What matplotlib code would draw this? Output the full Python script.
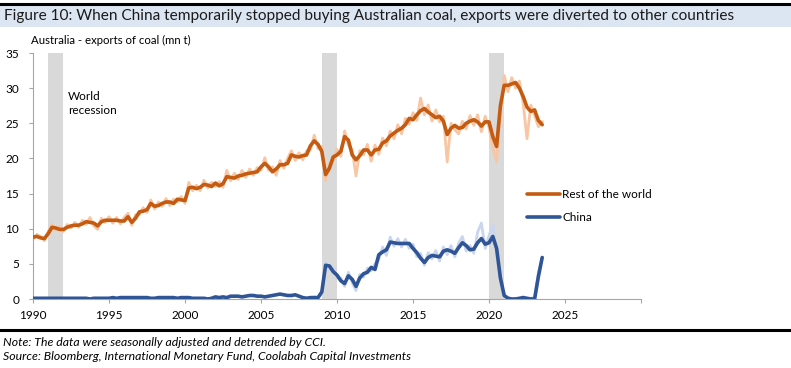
import numpy as np
import matplotlib
matplotlib.use('Agg')
import matplotlib.pyplot as plt
from matplotlib.patches import Rectangle
from matplotlib.lines import Line2D

# --- Data (quarterly) ---
q_start, q_end = 1990.0, 2023.5
quarters = np.arange(q_start, q_end + 0.01, 0.25)

row_trend = [
    8.8, 8.9, 8.7, 8.6,  9.3, 10.2, 10.1, 9.9,  9.9, 10.2, 10.4, 10.5,
    10.5, 10.7, 11.0, 10.9,  10.8, 10.4, 11.0, 11.2,  11.2, 11.2, 11.2, 11.1,
    11.1, 11.7, 10.9, 11.5,  12.4, 12.5, 12.7, 13.6,  13.2, 13.3, 13.6, 13.8,
    13.8, 13.6, 14.2, 14.1,  14.0, 15.8, 15.9, 15.7,  15.9, 16.3, 16.2, 16.0,
    16.5, 16.1, 16.4, 17.4,  17.3, 17.2, 17.5, 17.6,  17.8, 17.9, 18.0, 18.1,
    18.8, 19.3, 18.8, 18.1,  18.5, 19.1, 19.1, 19.3,  20.5, 20.3, 20.2, 20.4,
    20.5, 21.8, 22.5, 22.0,  21.0, 17.7, 18.6, 20.2,  20.5, 21.0, 23.1, 22.6,
    20.5, 19.8, 20.4, 21.2,  21.2, 20.5, 21.2, 21.3,  22.2, 22.5, 23.2, 23.6,
    24.0, 24.3, 24.8, 25.7,  25.5, 26.2, 26.8, 27.1,  26.6, 26.2, 25.8, 26.0,
    25.3, 23.4, 24.3, 24.7,  24.3, 24.4, 25.0, 25.3,  25.5, 25.2, 24.6, 25.2,
    25.2, 23.1, 21.7, 27.5,  30.4, 30.4, 30.6, 30.8,  30.0, 28.8, 27.3, 26.7,
    26.9, 25.4, 24.8,
]
row_raw = [
    8.5, 9.2, 8.9, 8.3,  9.6, 10.6, 9.8, 10.3,  9.6, 10.6, 10.1, 10.9,
    10.2, 11.2, 10.6, 11.6,  10.4, 9.9, 11.5, 10.9,  11.7, 10.8, 11.6, 10.7,
    11.6, 12.2, 10.5, 12.0,  12.0, 13.0, 12.3, 14.1,  12.8, 13.8, 13.2, 14.3,
    13.3, 14.2, 13.8, 14.6,  13.6, 16.6, 15.4, 16.2,  15.4, 16.9, 15.8, 16.6,
    16.0, 16.7, 15.9, 18.3,  16.8, 17.9, 17.0, 18.3,  17.3, 18.5, 17.6, 18.7,
    18.3, 20.1, 18.3, 18.8,  17.6, 19.7, 18.6, 20.0,  21.1, 19.7, 20.8, 19.8,
    21.1, 21.2, 23.3, 21.4,  21.7, 16.9, 19.3, 19.6,  21.3, 20.3, 23.9, 22.0,
    21.2, 17.5, 21.1, 20.5,  22.0, 19.6, 21.9, 20.6,  22.9, 21.8, 23.9, 22.8,
    24.8, 23.5, 25.7, 24.9,  26.5, 25.4, 28.6, 26.2,  27.6, 25.3, 26.9, 25.2,
    26.0, 19.5, 25.0, 24.1,  23.5, 25.3, 24.2, 26.1,  24.7, 26.2, 23.8, 26.0,
    24.4, 21.5, 19.5, 27.0,  31.8, 29.5, 31.5, 30.0,  31.0, 27.8, 22.8, 27.6,
    26.1, 24.5, 25.2,
]
china_trend = [
    0.1, 0.1, 0.1, 0.1,  0.1, 0.1, 0.1, 0.1,  0.1, 0.1, 0.1, 0.1,
    0.1, 0.1, 0.1, 0.0,  0.1, 0.1, 0.1, 0.1,  0.1, 0.2, 0.1, 0.2,
    0.2, 0.2, 0.2, 0.2,  0.2, 0.2, 0.2, 0.1,  0.1, 0.2, 0.2, 0.2,
    0.2, 0.2, 0.1, 0.2,  0.2, 0.2, 0.1, 0.1,  0.1, 0.1, 0.0, 0.1,
    0.3, 0.2, 0.3, 0.2,  0.4, 0.4, 0.4, 0.3,  0.4, 0.5, 0.5, 0.4,
    0.4, 0.3, 0.4, 0.5,  0.6, 0.7, 0.6, 0.5,  0.5, 0.6, 0.4, 0.2,
    0.1, 0.2, 0.2, 0.2,  1.0, 4.8, 4.7, 3.9,  3.4, 2.6, 2.2, 3.3,
    2.8, 1.8, 3.0, 3.6,  3.8, 4.5, 4.2, 6.3,  6.7, 7.0, 8.1, 8.0,
    7.9, 7.9, 7.9, 7.9,  7.2, 6.6, 5.8, 5.2,  5.9, 6.2, 6.1, 6.0,
    6.8, 7.0, 6.8, 6.5,  7.3, 8.0, 7.6, 7.0,  7.1, 8.0, 8.6, 7.8,
    8.0, 8.9, 7.2, 3.0,  0.5, 0.1, 0.0, 0.0,  0.1, 0.2, 0.1, 0.0,
    0.0, 3.2, 5.9,
]
china_raw_start = 2008.0
china_raw = [
    0.2, 0.1, 0.3, 0.1,  0.8, 5.3, 4.2, 4.4,  3.0, 3.0, 1.8, 3.8,
    2.3, 1.2, 3.5, 3.1,  4.4, 4.0, 5.0, 5.6,  7.4, 6.2, 8.8, 7.5,
    8.6, 7.4, 8.5, 7.2,  7.8, 6.0, 6.5, 4.8,  6.6, 5.7, 6.9, 5.4,
    7.4, 6.3, 7.6, 6.0,  7.9, 8.9, 6.8, 7.6,  6.5, 9.5, 10.8, 7.2,
    9.0, 10.6, 6.5, 2.6,  0.3, 0.2, 0.0, 0.1,  0.0, 0.3, 0.0, 0.1,
    0.2, 3.8, 5.9,
]
recessions = [(1991.0, 1992.0), (2009.0, 2010.0), (2020.0, 2021.0)]

xticks = [1990, 1995, 2000, 2005, 2010, 2015, 2020, 2025, 2030]
xticklabels = ['1990', '1995', '2000', '2005', '2010', '2015', '2020', '2025', '']
yticks = [0, 5, 10, 15, 20, 25, 30, 35]

# --- Figure ---
plt.rcParams['font.family'] = ['Lato', 'DejaVu Sans']
fig = plt.figure(figsize=(7.91, 3.68), dpi=100)
W, H = 791, 368

# header bar and rules
fig.patches.append(Rectangle((0, 1 - 27 / H), 1, 22 / H, transform=fig.transFigure,
                             facecolor='#DCE6F2', edgecolor='none', zorder=0))
fig.add_artist(Line2D([0, 1], [1 - 4 / H, 1 - 4 / H], transform=fig.transFigure,
                      color='black', linewidth=2.2))
fig.add_artist(Line2D([0, 1], [1 - 330 / H, 1 - 330 / H], transform=fig.transFigure,
                      color='black', linewidth=2.2))
fig.text(4 / W, 1 - 16 / H,
         'Figure 10: When China temporarily stopped buying Australian coal, exports were diverted to other countries',
         fontsize=11.1, va='center', ha='left', color='#1a1a1a')
fig.text(31 / W, 1 - 40 / H, 'Australia - exports of coal (mn t)', fontsize=8.2,
         va='center', ha='left')
fig.text(3 / W, 1 - 343 / H, 'Note: The data were seasonally adjusted and detrended by CCI.',
         fontsize=8.8, style='italic', va='center', ha='left')
fig.text(3 / W, 1 - 357 / H, 'Source: Bloomberg, International Monetary Fund, Coolabah Capital Investments',
         fontsize=8.8, style='italic', va='center', ha='left')

ax = fig.add_axes([33 / W, 1 - 299 / H, (641 - 33) / W, (299 - 53) / H])

for a, b in recessions:
    ax.axvspan(a, b, color='#D9D9D9', linewidth=0, zorder=0)

china_raw_x = np.arange(china_raw_start, q_end + 0.01, 0.25)
ax.plot(quarters, row_raw, color='#F8C6A2', linewidth=2.0, zorder=1)
ax.plot(china_raw_x, china_raw, color='#C9D6EE', linewidth=2.0, zorder=1)
ax.plot(quarters, row_trend, color='#C55A11', linewidth=2.6, zorder=3,
        solid_capstyle='round', label='Rest of the world')
ax.plot(quarters, china_trend, color='#2F5597', linewidth=2.6, zorder=3,
        solid_capstyle='round', label='China')

ax.text(1992.3, 29.6, 'World\nrecession', fontsize=8.5, va='top', ha='left',
        linespacing=1.35)

ax.set_xlim(1990, 2030)
ax.set_ylim(0, 35)
ax.set_xticks(xticks)
ax.set_xticklabels(xticklabels)
ax.set_yticks(yticks)
for s in ['top', 'right']:
    ax.spines[s].set_visible(False)
for s in ['left', 'bottom']:
    ax.spines[s].set_color('#A6A6A6')
    ax.spines[s].set_linewidth(0.8)
ax.tick_params(axis='both', colors='#A6A6A6', labelcolor='black', labelsize=8.5,
               length=3, width=0.8)
ax.tick_params(axis='y', pad=7)
ax.tick_params(axis='x', pad=5)

leg = ax.legend(loc='upper left', bbox_to_anchor=(0.795, 0.49), frameon=False,
                fontsize=8.5, handlelength=2.8, handletextpad=0.2, labelspacing=1.0)

fig.savefig('out.png', dpi=100)
